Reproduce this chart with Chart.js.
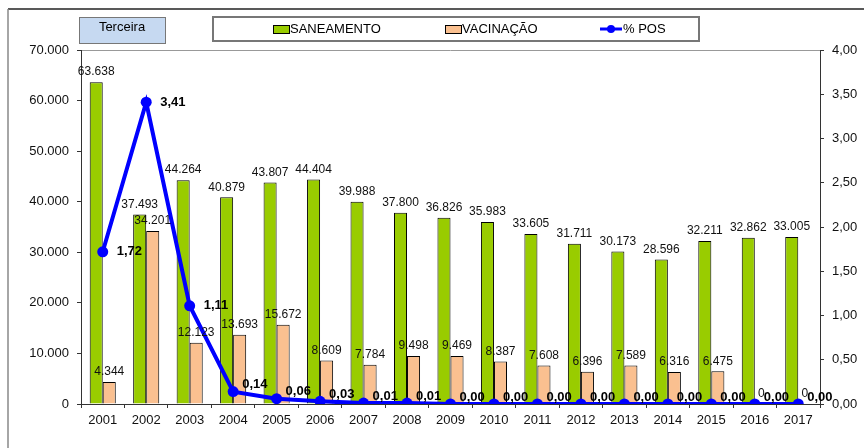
<!DOCTYPE html>
<html>
<head>
<meta charset="utf-8">
<script src="https://cdn.jsdelivr.net/npm/chart.js@4/dist/chart.umd.min.js"></script>
<style>
  html, body { margin: 0; padding: 0; background: #fff; }
  #wrap { width: 864px; height: 448px; }
</style>
</head>
<body>
<div id="wrap"><canvas id="chart" width="864" height="448"></canvas></div>
<script>
const years = ['2001', '2002', '2003', '2004', '2005', '2006', '2007', '2008', '2009',
  '2010', '2011', '2012', '2013', '2014', '2015', '2016', '2017'];
const saneamento = [63638, 37493, 44264, 40879, 43807, 44404, 39988, 37800, 36826,
  35983, 33605, 31711, 30173, 28596, 32211, 32862, 33005];
const vacinacao = [4344, 34201, 12123, 13693, 15672, 8609, 7784, 9498, 9469,
  8387, 7608, 6396, 7589, 6316, 6475, 0, 0];
const pctPos = [1.72, 3.41, 1.11, 0.14, 0.06, 0.03, 0.01, 0.01, 0.00,
  0.00, 0.00, 0.00, 0.00, 0.00, 0.00, 0.00, 0.00];

const FONT = '"Liberation Sans", Arial, sans-serif';
const NARROW = '"Liberation Sans Narrow", "Arial Narrow", "Liberation Sans", sans-serif';
const GREEN = '#99cc00';
const PEACH = '#fac090';
const BLUE = '#0000ff';

const fmtThousands = (v) => Math.round(v).toString().replace(/\B(?=(\d{3})+(?!\d))/g, '.');
const fmtPct = (v) => v.toFixed(2).replace('.', ',');

// frame, title box and legend drawn by hand
const decor = {
  id: 'decor',
  beforeDraw(chart) {
    const { ctx, chartArea: { left, right, top } } = chart;
    ctx.save();
    ctx.fillStyle = '#fff';
    ctx.fillRect(0, 0, chart.width, chart.height);

    // outer frame
    ctx.strokeStyle = '#222';
    ctx.lineWidth = 1.5;
    ctx.beginPath();
    ctx.moveTo(864, 9);
    ctx.lineTo(8, 9);
    ctx.stroke();
    ctx.strokeStyle = '#888';
    ctx.beginPath();
    ctx.moveTo(8, 9);
    ctx.lineTo(8, 448);
    ctx.stroke();

    // plot area top border
    ctx.strokeStyle = '#999';
    ctx.lineWidth = 1;
    ctx.beginPath();
    ctx.moveTo(left, top + 0.5);
    ctx.lineTo(right, top + 0.5);
    ctx.stroke();

    // "Terceira" box
    ctx.fillStyle = '#c6d9f1';
    ctx.fillRect(79, 17, 86, 26);
    ctx.strokeStyle = '#777';
    ctx.strokeRect(79.5, 17.5, 86, 26);
    ctx.fillStyle = '#000';
    ctx.font = '13px ' + NARROW;
    ctx.textAlign = 'center';
    ctx.textBaseline = 'middle';
    ctx.fillText('Terceira', 122, 27);

    // legend box
    ctx.strokeStyle = '#777';
    ctx.lineWidth = 2;
    ctx.strokeRect(213, 17, 486, 24);
    ctx.lineWidth = 1;
    ctx.textAlign = 'left';
    ctx.font = '13px ' + NARROW;

    ctx.fillStyle = GREEN;
    ctx.fillRect(273, 25, 16, 8);
    ctx.strokeStyle = '#000';
    ctx.strokeRect(273.5, 25.5, 16, 8);
    ctx.fillStyle = '#000';
    ctx.fillText('SANEAMENTO', 290, 29);

    ctx.fillStyle = PEACH;
    ctx.fillRect(445, 25, 16, 8);
    ctx.strokeRect(445.5, 25.5, 16, 8);
    ctx.fillStyle = '#000';
    ctx.fillText('VACINAÇÃO', 462, 29);

    ctx.strokeStyle = BLUE;
    ctx.lineWidth = 3;
    ctx.beginPath();
    ctx.moveTo(600, 29);
    ctx.lineTo(622, 29);
    ctx.stroke();
    ctx.fillStyle = BLUE;
    ctx.beginPath();
    ctx.arc(611, 29, 4, 0, Math.PI * 2);
    ctx.fill();
    ctx.fillStyle = '#000';
    ctx.fillText('% POS', 623, 29);
    ctx.restore();
  },
};

// data labels on bars and line
const valueLabels = {
  id: 'valueLabels',
  afterDatasetsDraw(chart) {
    const { ctx } = chart;
    ctx.save();
    ctx.textAlign = 'center';
    ctx.textBaseline = 'bottom';
    ctx.font = '12px ' + FONT;
    ctx.fillStyle = '#111';
    [0, 1].forEach((di) => {
      const meta = chart.getDatasetMeta(di);
      const vals = chart.data.datasets[di].data;
      meta.data.forEach((bar, i) => {
        ctx.fillText(fmtThousands(vals[i]), bar.x, bar.y - 4);
      });
    });

    ctx.font = 'bold 13px ' + FONT;
    ctx.textAlign = 'left';
    ctx.textBaseline = 'middle';
    ctx.fillStyle = '#000';
    const lineMeta = chart.getDatasetMeta(2);
    lineMeta.data.forEach((pt, i) => {
      const small = pctPos[i] < 0.5;
      const y = small ? pt.y - 7 : pt.y;
      const x = small ? pt.x + 9 : pt.x + 14;
      ctx.fillText(fmtPct(pctPos[i]), x, y);
    });
    ctx.restore();
  },
};

new Chart(document.getElementById('chart'), {
  type: 'bar',
  data: {
    labels: years,
    datasets: [
      {
        label: 'SANEAMENTO',
        data: saneamento,
        backgroundColor: GREEN,
        borderColor: '#000',
        borderWidth: 1,
        borderSkipped: 'bottom',
        categoryPercentage: 0.6,
        barPercentage: 1.0,
        yAxisID: 'y',
        order: 1,
      },
      {
        label: 'VACINAÇÃO',
        data: vacinacao,
        backgroundColor: PEACH,
        borderColor: '#000',
        borderWidth: 1,
        borderSkipped: 'bottom',
        categoryPercentage: 0.6,
        barPercentage: 1.0,
        yAxisID: 'y',
        order: 1,
      },
      {
        type: 'line',
        label: '% POS',
        data: pctPos,
        borderColor: BLUE,
        backgroundColor: BLUE,
        borderWidth: 4,
        pointRadius: 5.5,
        pointBackgroundColor: BLUE,
        pointBorderWidth: 0,
        tension: 0,
        yAxisID: 'y1',
        order: 0,
      },
    ],
  },
  options: {
    responsive: false,
    animation: false,
    layout: {
      padding: { top: 50, left: 0, right: 0, bottom: 0 },
    },
    plugins: {
      legend: { display: false },
      tooltip: { enabled: false },
    },
    scales: {
      x: {
        grid: {
          display: true,
          drawOnChartArea: false,
          tickLength: 4,
          color: '#333',
        },
        border: { color: '#333', width: 1 },
        ticks: {
          color: '#111',
          padding: 5,
          font: { size: 13, family: FONT },
        },
        afterFit(scale) { scale.height = 44; },
      },
      y: {
        position: 'left',
        min: 0,
        max: 70000,
        grid: {
          display: true,
          drawOnChartArea: false,
          tickLength: 4,
          color: '#333',
        },
        border: { color: '#333', width: 1 },
        ticks: {
          stepSize: 10000,
          color: '#111',
          padding: 8,
          font: { size: 13, family: FONT },
          callback: (v) => fmtThousands(v),
        },
        afterFit(scale) { scale.width = 81; },
      },
      y1: {
        position: 'right',
        min: 0,
        max: 4,
        grid: {
          display: true,
          drawOnChartArea: false,
          tickLength: 4,
          color: '#333',
        },
        border: { color: '#333', width: 1 },
        ticks: {
          stepSize: 0.5,
          color: '#111',
          padding: 8,
          font: { size: 13, family: FONT },
          callback: (v) => fmtPct(v),
        },
        afterFit(scale) { scale.width = 44; },
      },
    },
  },
  plugins: [decor, valueLabels],
});
</script>
</body>
</html>
